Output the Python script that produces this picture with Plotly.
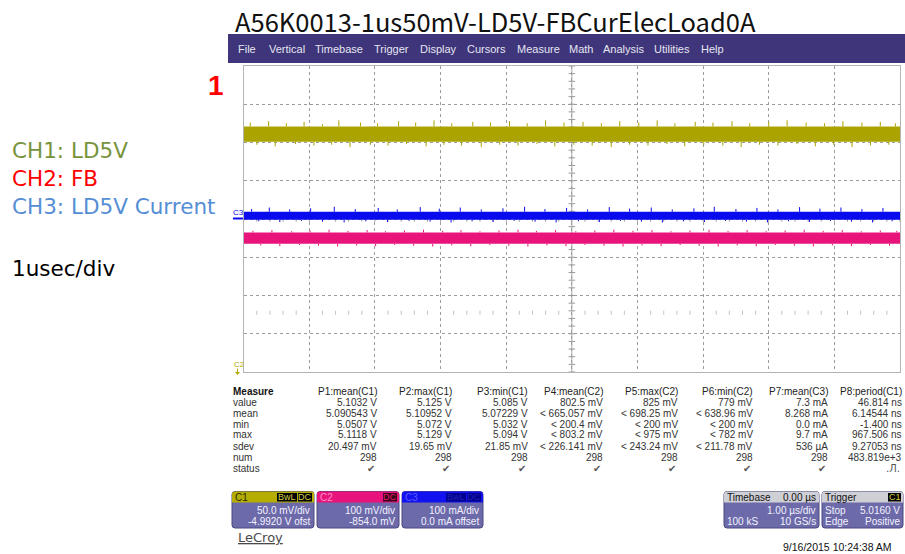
import plotly.graph_objects as go
import numpy as np

# ---------------- DATA ----------------
TITLE = "A56K0013-1us50mV-LD5V-FBCurElecLoad0A"
MENU_ITEMS = ["File", "Vertical", "Timebase", "Trigger", "Display", "Cursors",
              "Measure", "Math", "Analysis", "Utilities", "Help"]
SIDE_LABELS = ["CH1: LD5V", "CH2: FB", "CH3: LD5V Current"]
TIME_LABEL = "1usec/div"
PAGE_NUMBER = "1"

TIME_PER_DIV_US = 1.0
N_HDIV, N_VDIV = 10, 8

# channel vertical settings (from channel boxes)
C1_SCALE, C1_OFFSET = 0.050, -4.992      # V/div, V
C2_SCALE, C2_OFFSET = 100.0, -854.0      # mV/div, mV
C3_SCALE, C3_OFFSET = 100.0, 0.0         # mA/div, mA
TRIG_LEVEL_V = 5.016

# trace bands (solid core of the noisy traces)
C1_CORE = (5.093, 5.113)     # V
C2_CORE = (789.0, 819.0)     # mV
C3_CORE = (-2.0, 19.0)       # mA

# noise spikes: (time us, tip value)
C1_UP = [(-4.90, 5.118), (-4.62, 5.120), (-4.35, 5.117), (-4.08, 5.119), (-3.80, 5.116),
         (-3.55, 5.121), (-3.22, 5.118), (-2.96, 5.117), (-2.64, 5.120), (-2.38, 5.118),
         (-2.10, 5.121), (-1.83, 5.117), (-1.51, 5.119), (-1.24, 5.118), (-0.95, 5.120),
         (-0.68, 5.117), (-0.40, 5.121), (-0.12, 5.118), (0.17, 5.119), (0.45, 5.117),
         (0.73, 5.120), (1.02, 5.118), (1.30, 5.121), (1.57, 5.117), (1.88, 5.119),
         (2.15, 5.118), (2.44, 5.120), (2.71, 5.117), (3.00, 5.119), (3.28, 5.121),
         (3.57, 5.118), (3.85, 5.117), (4.13, 5.120), (4.42, 5.118), (4.70, 5.119), (4.93, 5.117)]
C1_DN = [(-4.80, 5.089), (-4.52, 5.087), (-4.21, 5.090), (-3.93, 5.088), (-3.66, 5.089),
         (-3.38, 5.086), (-3.07, 5.089), (-2.80, 5.088), (-2.52, 5.090), (-2.22, 5.087),
         (-1.95, 5.089), (-1.68, 5.088), (-1.38, 5.086), (-1.10, 5.089), (-0.82, 5.088),
         (-0.53, 5.090), (-0.26, 5.087), (0.03, 5.089), (0.31, 5.088), (0.60, 5.086),
         (0.88, 5.089), (1.16, 5.088), (1.45, 5.090), (1.72, 5.087), (2.01, 5.089),
         (2.30, 5.088), (2.58, 5.086), (2.86, 5.089), (3.14, 5.088), (3.43, 5.090),
         (3.71, 5.087), (3.99, 5.089), (4.27, 5.086), (4.55, 5.088), (4.83, 5.089)]
C2_UP = [(-4.86, 823), (-4.57, 825), (-4.27, 822), (-3.99, 824), (-3.70, 826),
         (-3.41, 823), (-3.12, 825), (-2.84, 822), (-2.55, 824), (-2.26, 826),
         (-1.97, 823), (-1.69, 825), (-1.40, 822), (-1.11, 824), (-0.82, 826),
         (-0.54, 823), (-0.25, 825), (0.06, 822), (0.35, 824), (0.64, 826),
         (0.93, 823), (1.22, 825), (1.51, 822), (1.80, 824), (2.09, 826),
         (2.38, 823), (2.67, 825), (2.96, 822), (3.25, 824), (3.54, 826),
         (3.83, 823), (4.12, 825), (4.41, 822), (4.70, 824), (4.95, 823)]
C2_DN = [(-4.74, 785), (-4.45, 783), (-4.15, 786), (-3.86, 784), (-3.57, 782),
         (-3.28, 785), (-2.99, 783), (-2.70, 786), (-2.41, 784), (-2.12, 782),
         (-1.83, 785), (-1.54, 783), (-1.25, 786), (-0.96, 784), (-0.67, 782),
         (-0.38, 785), (-0.09, 783), (0.20, 786), (0.49, 784), (0.78, 782),
         (1.07, 785), (1.36, 783), (1.65, 786), (1.94, 784), (2.23, 782),
         (2.52, 785), (2.81, 783), (3.10, 786), (3.39, 784), (3.68, 782),
         (3.97, 785), (4.26, 783), (4.55, 786), (4.84, 784)]
C3_UP = [(-4.88, 26), (-4.61, 30), (-4.30, 25), (-3.98, 28), (-3.62, 32),
         (-3.30, 26), (-2.95, 29), (-2.66, 25), (-2.31, 31), (-2.02, 27),
         (-1.70, 30), (-1.38, 25), (-1.05, 28), (-0.72, 32), (-0.41, 26),
         (-0.08, 29), (0.24, 25), (0.57, 31), (0.88, 27), (1.21, 30),
         (1.53, 25), (1.86, 28), (2.17, 32), (2.50, 26), (2.82, 29),
         (3.14, 25), (3.47, 31), (3.78, 27), (4.10, 30), (4.42, 26), (4.74, 29)]
C3_DN = [(-4.77, -6), (-4.45, -8), (-4.12, -5), (-3.80, -7), (-3.47, -9),
         (-3.14, -6), (-2.81, -8), (-2.48, -5), (-2.16, -7), (-1.84, -9),
         (-1.52, -6), (-1.20, -8), (-0.88, -5), (-0.56, -7), (-0.24, -9),
         (0.10, -6), (0.42, -8), (0.74, -5), (1.06, -7), (1.38, -9),
         (1.70, -6), (2.02, -8), (2.34, -5), (2.66, -7), (2.98, -9),
         (3.30, -6), (3.62, -8), (3.94, -5), (4.26, -7), (4.58, -9), (4.88, -6)]

# measurement table
MEAS_HEADERS = ["P1:mean(C1)", "P2:max(C1)", "P3:min(C1)", "P4:mean(C2)",
                "P5:max(C2)", "P6:min(C2)", "P7:mean(C3)", "P8:period(C1)"]
MEAS_ROW_NAMES = ["value", "mean", "min", "max", "sdev", "num", "status"]
MEAS_VALUE = ["5.1032 V", "5.125 V", "5.085 V", "802.5 mV", "825 mV", "779 mV", "7.3 mA", "46.814 ns"]
MEAS_MEAN = ["5.090543 V", "5.10952 V", "5.07229 V", "< 665.057 mV", "< 698.25 mV",
             "< 638.96 mV", "8.268 mA", "6.14544 ns"]
MEAS_MIN = ["5.0507 V", "5.072 V", "5.032 V", "< 200.4 mV", "< 200 mV", "< 200 mV", "0.0 mA", "-1.400 ns"]
MEAS_MAX = ["5.1118 V", "5.129 V", "5.094 V", "< 803.2 mV", "< 975 mV", "< 782 mV", "9.7 mA", "967.506 ns"]
MEAS_SDEV = ["20.497 mV", "19.65 mV", "21.85 mV", "< 226.141 mV", "< 243.24 mV",
             "< 211.78 mV", "536 µA", "9.27053 ns"]
MEAS_NUM = ["298", "298", "298", "298", "298", "298", "298", "483.819e+3"]
MEAS_STATUS = ["✔", "✔", "✔", "✔", "✔", "✔", "✔", ".Л."]

CH_BOXES = [
    ("C1", ["BwL", "DC"], "50.0 mV/div", "-4.9920 V ofst"),
    ("C2", ["DC"], "100 mV/div", "-854.0 mV"),
    ("C3", ["BwL", "DC"], "100 mA/div", "0.0 mA offset"),
]
TIMEBASE = ("Timebase", "0.00 µs", "1.00 µs/div", "100 kS", "10 GS/s")
TRIGGER = ("Trigger", "C1", "Stop", "5.0160 V", "Edge", "Positive")
DATESTAMP = "9/16/2015 10:24:38 AM"
BRAND = "LeCroy"

# ---------------- STYLE / LAYOUT ----------------
W, H = 905, 554
PX0, PX1, PY0, PY1 = 243.7, 900.0, 66.0, 372.0
YEL, PINK, BLUE = "#aba300", "#e8147c", "#0a0aee"
UI_FONT = "Liberation Sans, Arial, sans-serif"
JP_FONT = "Noto Sans CJK JP, sans-serif"
SIDE_FONT = "DejaVu Sans, sans-serif"


def fx(x):
    return x / W


def fy(y):
    return 1 - y / H


def to_div(v, scale, offset):
    return (np.asarray(v, dtype=float) + offset) / scale


fig = go.Figure()
shapes, annots = [], []


def txt(x, y, s, size=10, color="#222", anchor="left", family=UI_FONT, yanchor="middle", align="left"):
    annots.append(dict(x=fx(x), y=fy(y), xref="paper", yref="paper", text=s, showarrow=False,
                       xanchor=anchor, yanchor=yanchor, borderpad=0, align=align,
                       font=dict(size=size, color=color, family=family)))


def rect(x0, y0, x1, y1, fill, line=None, layer="above"):
    shapes.append(dict(type="rect", xref="paper", yref="paper", x0=fx(x0), x1=fx(x1),
                       y0=fy(y1), y1=fy(y0), fillcolor=fill, layer=layer,
                       line=dict(width=0 if line is None else 1, color=line or fill)))


def rrect(x0, y0, x1, y1, r, fill, line=None, top_only=False):
    rb = 0 if top_only else r
    p = (f"M {fx(x0 + r)},{fy(y0)} L {fx(x1 - r)},{fy(y0)} Q {fx(x1)},{fy(y0)} {fx(x1)},{fy(y0 + r)} "
         f"L {fx(x1)},{fy(y1 - rb)} Q {fx(x1)},{fy(y1)} {fx(x1 - rb)},{fy(y1)} "
         f"L {fx(x0 + rb)},{fy(y1)} Q {fx(x0)},{fy(y1)} {fx(x0)},{fy(y1 - rb)} "
         f"L {fx(x0)},{fy(y0 + r)} Q {fx(x0)},{fy(y0)} {fx(x0 + r)},{fy(y0)} Z")
    shapes.append(dict(type="path", xref="paper", yref="paper", path=p, fillcolor=fill, layer="above",
                       line=dict(width=0 if line is None else 1, color=line or fill)))


# ---------------- TRACES ----------------
XH = N_HDIV * TIME_PER_DIV_US / 2

# center axis minor ticks
tick_y = np.arange(-N_VDIV / 2, N_VDIV / 2 + 0.001, 0.2)
tick_x = np.arange(-XH, XH + 0.001, 0.2)
vx, vy = [], []
for t in tick_y:
    vx += [-0.05, 0.05, None]
    vy += [t, t, None]
for t in tick_x:
    vx += [t, t, None]
    vy += [-0.07, 0.07, None]
fig.add_trace(go.Scatter(x=vx, y=vy, mode="lines", line=dict(color="#9a9a9a", width=1),
                         hoverinfo="skip", showlegend=False))
# faint dotted row
dots_x = [t for t in np.arange(-XH, XH, 0.2) if abs(t - round(t)) > 0.05]
fig.add_trace(go.Scatter(x=dots_x, y=[-2.45] * len(dots_x), mode="markers",
                         marker=dict(symbol="line-ns", size=3, line=dict(width=1, color="#c4c4c4")),
                         hoverinfo="skip", showlegend=False))


def band(core, scale, offset, color):
    lo, hi = to_div(core, scale, offset)
    fig.add_trace(go.Scatter(x=[-XH, XH, XH, -XH, -XH], y=[lo, lo, hi, hi, lo], fill="toself",
                             fillcolor=color, mode="lines", line=dict(width=0, color=color),
                             hoverinfo="skip", showlegend=False))


def spikes(pairs, base, scale, offset, color):
    b = float(to_div(base, scale, offset))
    xs, ys = [], []
    for t, v in pairs:
        xs += [t, t, None]
        ys += [b, float(to_div(v, scale, offset)), None]
    fig.add_trace(go.Scatter(x=xs, y=ys, mode="lines", line=dict(color=color, width=1),
                             hoverinfo="skip", showlegend=False))


for core, up, dn, sc, off, col in [
    (C1_CORE, C1_UP, C1_DN, C1_SCALE, C1_OFFSET, YEL),
    (C3_CORE, C3_UP, C3_DN, C3_SCALE, C3_OFFSET, BLUE),
    (C2_CORE, C2_UP, C2_DN, C2_SCALE, C2_OFFSET, PINK),
]:
    band(core, sc, off, col)
    spikes(up, core[1], sc, off, col)
    spikes(dn, core[0], sc, off, col)

# trigger markers
fig.add_trace(go.Scatter(x=[XH * 1.006], y=[float(to_div(TRIG_LEVEL_V, C1_SCALE, C1_OFFSET))],
                         mode="markers", cliponaxis=False,
                         marker=dict(symbol="triangle-left", size=7, color="#b8b000"),
                         hoverinfo="skip", showlegend=False))
fig.add_trace(go.Scatter(x=[0], y=[-N_VDIV / 2 - 0.09], mode="markers", cliponaxis=False,
                         marker=dict(symbol="triangle-up", size=8, color="#a8c000"),
                         hoverinfo="skip", showlegend=False))

# center vertical line
shapes.append(dict(type="line", xref="x", yref="y", x0=0, x1=0, y0=-N_VDIV / 2, y1=N_VDIV / 2,
                   line=dict(color="#a8a8a8", width=1), layer="below"))

# ---------------- DECORATION ----------------
# title and menu bar
txt(234, 21, TITLE, size=25.5, color="#111", family=JP_FONT)
rect(228, 34, 905, 63, "#3e357a")
MENU_X = [237, 268, 314, 373, 419, 466, 516, 568, 602, 653, 700]
for name, x in zip(MENU_ITEMS, MENU_X):
    txt(x, 49, name, size=11, color="#e6e6f2")

# side labels
txt(207, 86, f"<b>{PAGE_NUMBER}</b>", size=28, color="#ff0000")
SIDE_COLORS = ["#77933c", "#ff0000", "#558ed5"]
side_html = "<br>".join(f"<span style='color:{c}'>{s}</span>" for s, c in zip(SIDE_LABELS, SIDE_COLORS))
txt(11, 178.5, side_html, size=21.5, color="#000", family=SIDE_FONT)
txt(11, 268, TIME_LABEL, size=21.5, color="#000", family=SIDE_FONT)

# channel labels at left of grid
txt(232, 212, "C3", size=8, color=BLUE)
shapes.append(dict(type="line", xref="paper", yref="paper", x0=fx(233), x1=fx(243), y0=fy(218.5),
                   y1=fy(218.5), line=dict(color=BLUE, width=2)))
txt(233, 364, "C2", size=8, color="#b0a800")
shapes.append(dict(type="line", xref="paper", yref="paper", x0=fx(237.5), x1=fx(237.5),
                   y0=fy(368.5), y1=fy(373), line=dict(color="#b0a800", width=1)))
shapes.append(dict(type="path", xref="paper", yref="paper",
                   path=f"M {fx(235)},{fy(372)} L {fx(240)},{fy(372)} L {fx(237.5)},{fy(375)} Z",
                   fillcolor="#b0a800", line=dict(width=0)))

# measurement table
COL_R = [378, 453, 529, 604, 679, 754, 829, 903]
ROW_Y0, ROW_DY = 391, 11
txt(232, ROW_Y0, "<b>Measure</b>", size=10, color="#111")
for h, xr in zip(MEAS_HEADERS, COL_R):
    txt(xr, ROW_Y0, h, size=10, color="#222", anchor="right")
rows = [MEAS_VALUE, MEAS_MEAN, MEAS_MIN, MEAS_MAX, MEAS_SDEV, MEAS_NUM, MEAS_STATUS]
for i, (rn, vals) in enumerate(zip(MEAS_ROW_NAMES, rows)):
    y = ROW_Y0 + ROW_DY * (i + 1)
    txt(232, y, rn, size=10, color="#333")
    for v, xr in zip(vals, COL_R):
        if rn == "status":
            txt(xr - 2, y, v, size=10, color="#555", anchor="right", family="DejaVu Sans")
        else:
            txt(xr, y, v, size=10, color="#333", anchor="right")

# channel boxes
BODY = "#6d6aa9"
BOX_X = [(232, 314), (317, 399), (402, 483)]
HDR = [("#b5ae00", "#2c2a00", "#000000", "#d8cf40"),
       ("#e8147c", "#ff8cc6", "#3a0618", "#e8147c"),
       ("#1212f0", "#5a5aff", "#000090", "#2020b0")]
for (name, badges, l2, l3), (x0, x1), (hc, nc, bc, btc) in zip(CH_BOXES, BOX_X, HDR):
    rrect(x0, 491.5, x1, 528, 3, BODY, line="#4a4880")
    rrect(x0, 491.5, x1, 502.5, 3, hc, top_only=True)
    txt(x0 + 2, 497, name, size=10, color=nc)
    bx = x1 - 2
    for b in reversed(badges):
        bw = 7 * len(b) - 1 if len(b) > 2 else 14
        rect(bx - bw, 493, bx, 501.5, bc)
        txt(bx - bw / 2, 497.3, b, size=9, color=btc, anchor="center")
        bx -= bw + 1
    txt(x1 - 3, 510, l2, size=10, color="#f2f2ff", anchor="right")
    txt(x1 - 3, 521, l3, size=10, color="#f2f2ff", anchor="right")

# timebase box
tb0, tb1 = 724, 819
rrect(tb0, 491.5, tb1, 528, 3, BODY, line="#4a4880")
rrect(tb0, 491.5, tb1, 502.5, 3, "#cfcfd6", top_only=True)
txt(tb0 + 2, 497, TIMEBASE[0], size=10, color="#111")
txt(tb1 - 2, 497, TIMEBASE[1], size=10, color="#111", anchor="right")
txt(tb1 - 2, 510, TIMEBASE[2], size=10, color="#f2f2ff", anchor="right")
txt(tb0 + 2, 521, TIMEBASE[3], size=10, color="#f2f2ff")
txt(tb1 - 2, 521, TIMEBASE[4], size=10, color="#f2f2ff", anchor="right")

# trigger box
tr0, tr1 = 822, 903
rrect(tr0, 491.5, tr1, 528, 3, BODY, line="#4a4880")
rrect(tr0, 491.5, tr1, 502.5, 3, "#cfcfd6", top_only=True)
txt(tr0 + 2, 497, TRIGGER[0], size=10, color="#111")
rect(tr1 - 15, 493, tr1 - 2, 501.5, "#000000")
txt(tr1 - 8.5, 497.3, TRIGGER[1], size=9, color="#d8cf40", anchor="center")
txt(tr0 + 2, 510, TRIGGER[2], size=10, color="#f2f2ff")
txt(tr1 - 2, 510, TRIGGER[3], size=10, color="#f2f2ff", anchor="right")
txt(tr0 + 2, 521, TRIGGER[4], size=10, color="#f2f2ff")
txt(tr1 - 2, 521, TRIGGER[5], size=10, color="#f2f2ff", anchor="right")

txt(237, 537, f"<u>{BRAND}</u>", size=13, color="#4a4a4a", family="DejaVu Sans")
txt(893, 547, DATESTAMP, size=10.5, color="#111", anchor="right")

grid_axis = dict(showgrid=True, gridcolor="#9c9c9c", griddash="dot", gridwidth=1,
                 zeroline=False, showticklabels=False, ticks="", showline=True, mirror=True,
                 linecolor="#b4b4b4", linewidth=1, dtick=1, tick0=0, fixedrange=True)
fig.update_layout(
    width=W, height=H, margin=dict(l=0, r=0, t=0, b=0),
    paper_bgcolor="white", plot_bgcolor="white", showlegend=False,
    xaxis=dict(range=[-XH, XH], domain=[fx(PX0), fx(PX1)], **grid_axis),
    yaxis=dict(range=[-N_VDIV / 2, N_VDIV / 2], domain=[fy(PY1), fy(PY0)], **grid_axis),
    shapes=shapes, annotations=annots,
)
fig.write_html("out.html", config={"displayModeBar": False},
               post_script="document.body.style.margin='0';document.body.style.overflow='hidden';")
